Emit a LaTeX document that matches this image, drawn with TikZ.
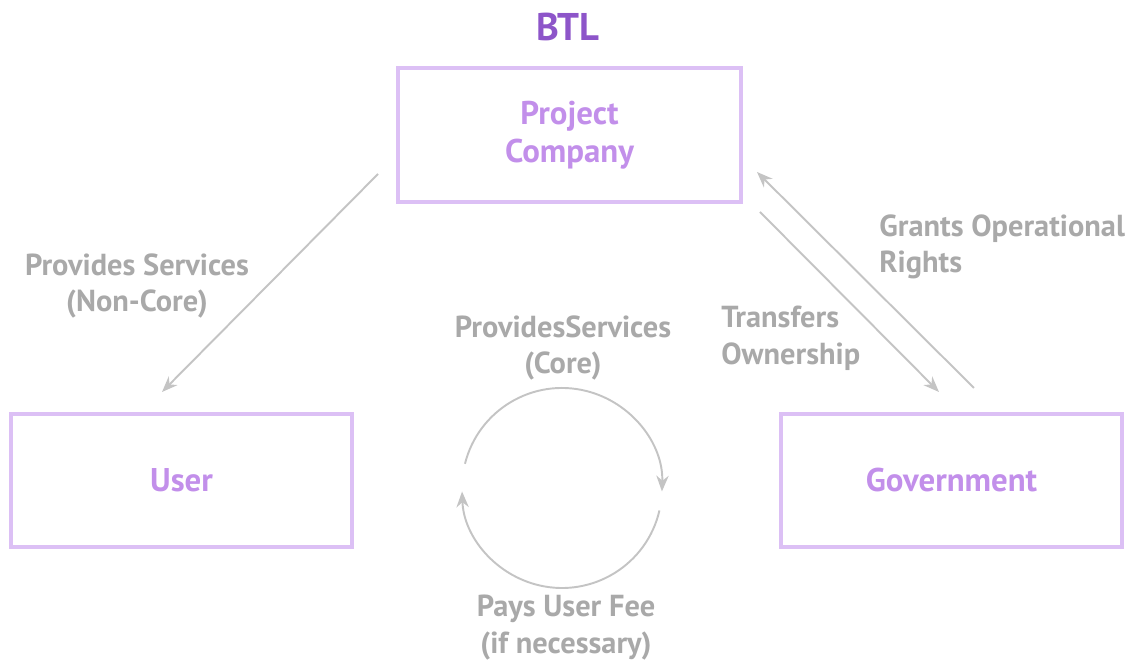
\documentclass[tikz,border=0pt]{standalone}
\usepackage{fontspec}
\setmainfont{PT Sans}
\usetikzlibrary{arrows.meta,calc}
\definecolor{boxline}{HTML}{DCC0F5}
\definecolor{boxtext}{HTML}{C28FEA}
\definecolor{titlecol}{HTML}{8D55C9}
\definecolor{arrowcol}{HTML}{C4C4C4}
\definecolor{labelcol}{HTML}{A9A9A9}
\tikzset{
  actor/.style={draw=boxline, line width=2.3pt, inner sep=0pt,
    text=boxtext, font=\fontsize{18.7}{21.5}\selectfont\bfseries, align=center},
  lbl/.style={text=labelcol, font=\fontsize{17.3}{21}\selectfont\bfseries, inner sep=0pt},
  conn/.style={draw=arrowcol, line width=1.1pt, -{Stealth[length=9pt,width=7pt]}},
}
\begin{document}
\begin{tikzpicture}[x=0.02cm,y=0.02cm]
\useasboundingbox (0,0) rectangle (1134,661);
% title
\node[text=titlecol, font=\fontsize{22}{25}\selectfont\bfseries, inner sep=0pt] (title) at (568,634) {BTL};
% boxes
\node[actor, minimum width=343*0.02cm, minimum height=134*0.02cm] (pc) at (569.5,526) {Project\\Company};
\node[actor, minimum width=341*0.02cm, minimum height=133*0.02cm] (user) at (181.5,180.5) {User};
\node[actor, minimum width=341*0.02cm, minimum height=133*0.02cm] (gov) at (951.5,180.5) {Government};
% connector end points
\coordinate (a1s) at (378,487);
\coordinate (a1e) at (162,269);
\coordinate (a2s) at (760,449);
\coordinate (a2e) at (939,269);
\coordinate (a3s) at (974,273);
\coordinate (a3e) at (757,489);
\draw[conn] (a1s) -- (a1e);
\draw[conn] (a2s) -- (a2e);
\draw[conn] (a3s) -- (a3e);
% labels
\node[lbl, align=center] (l1) at (137,375) {Provides Services\\(Non-Core)};
\node[lbl, align=left, anchor=north west] (l2) at (721,355) {Transfers\\Ownership};
\node[lbl, align=left, anchor=north west] (l3) at (879,447) {Grants Operational\\Rights};
\node[lbl, align=center] (l4) at (563,313) {ProvidesServices\\(Core)};
\node[lbl, align=center] (l5) at (566,33) {Pays User Fee\\(if necessary)};
% cycle
\coordinate (cc) at (562,173);
\draw[conn] ($(cc)+(166:100)$) arc[start angle=166, end angle=-2, radius=100];
\draw[conn] ($(cc)+(-13:100)$) arc[start angle=-13, end angle=-178, radius=100];
\end{tikzpicture}
\end{document}
